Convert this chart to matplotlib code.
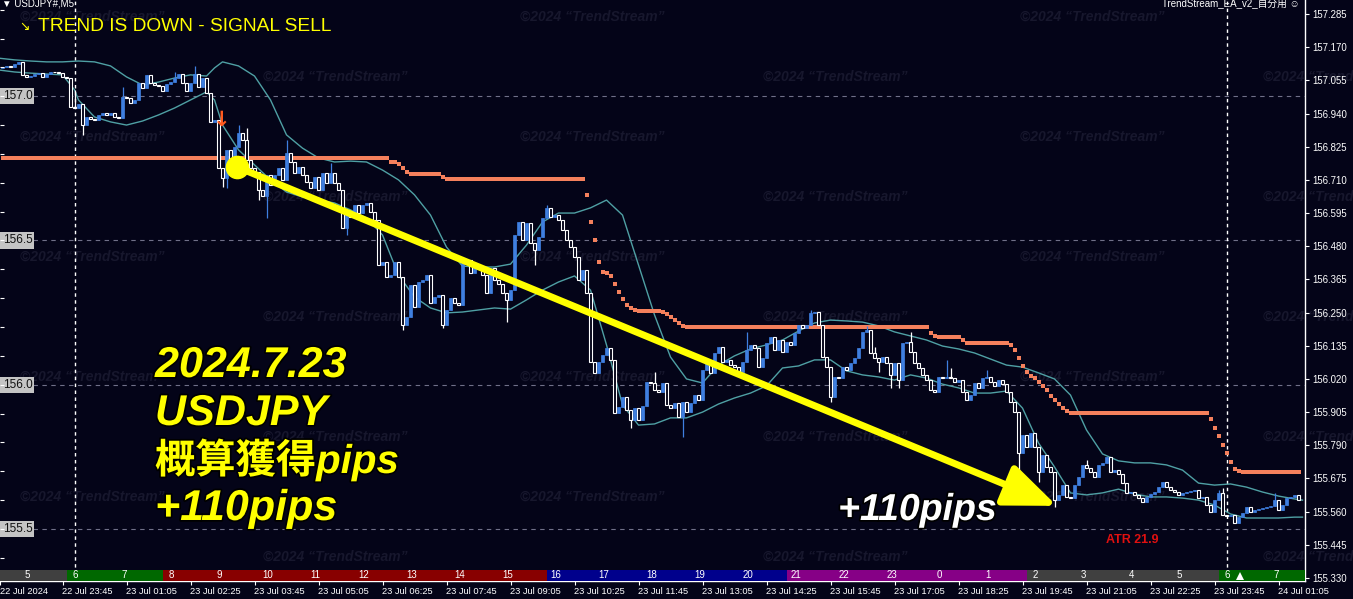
import numpy as np
import matplotlib
matplotlib.use("Agg")
import matplotlib.pyplot as plt
import matplotlib.patheffects as pe
from matplotlib import font_manager
from matplotlib.patches import Rectangle, FancyArrowPatch

# ---- data ----
FIRST_OPEN = 157.098

CLOSES = [
    157.101, 157.105, 157.101, 157.112, 157.119, 157.074, 157.067, 157.070, 157.077, 157.080,
    157.067, 157.077, 157.084, 157.084, 157.080, 157.067, 157.063, 156.963, 156.959, 156.973,
    156.900, 156.928, 156.921, 156.918, 156.935, 156.942, 156.935, 156.942, 156.928, 156.925,
    156.997, 156.994, 156.977, 156.987, 157.046, 157.028, 157.074, 157.046, 157.039, 157.035,
    157.018, 157.042, 157.049, 157.063, 157.077, 157.046, 157.018, 157.046, 157.077, 157.032,
    157.063, 157.011, 156.911, 156.918, 156.751, 156.717, 156.814, 156.779, 156.824, 156.872,
    156.848, 156.779, 156.751, 156.737, 156.675, 156.654, 156.727, 156.692, 156.727, 156.751,
    156.710, 156.803, 156.772, 156.734, 156.754, 156.727, 156.703, 156.682, 156.720, 156.675,
    156.734, 156.699, 156.734, 156.699, 156.675, 156.543, 156.595, 156.581, 156.623, 156.595,
    156.623, 156.630, 156.599, 156.571, 156.415, 156.425, 156.373, 156.380, 156.425, 156.373,
    156.207, 156.235, 156.345, 156.269, 156.356, 156.363, 156.380, 156.283, 156.304, 156.311,
    156.207, 156.259, 156.301, 156.283, 156.276, 156.422, 156.432, 156.387, 156.415, 156.408,
    156.380, 156.318, 156.404, 156.363, 156.349, 156.318, 156.294, 156.328, 156.519, 156.564,
    156.502, 156.561, 156.491, 156.467, 156.512, 156.578, 156.613, 156.581, 156.588, 156.571,
    156.536, 156.502, 156.477, 156.443, 156.363, 156.398, 156.318, 156.079, 156.041, 156.079,
    156.103, 156.127, 156.086, 155.902, 155.923, 155.957, 155.912, 155.878, 155.919, 155.878,
    155.926, 156.010, 156.006, 155.982, 155.975, 156.006, 155.930, 155.919, 155.937, 155.888,
    155.940, 155.905, 155.937, 155.964, 155.947, 156.051, 156.079, 156.041, 156.110, 156.131,
    156.079, 156.086, 156.068, 156.061, 156.044, 156.079, 156.120, 156.138, 156.127, 156.061,
    156.093, 156.145, 156.166, 156.120, 156.155, 156.113, 156.148, 156.138, 156.179, 156.207,
    156.197, 156.207, 156.249, 156.252, 156.207, 156.096, 156.061, 155.957, 156.027, 156.023,
    156.061, 156.051, 156.075, 156.093, 156.127, 156.183, 156.190, 156.110, 156.093, 156.079,
    156.096, 156.075, 156.034, 156.075, 156.016, 156.145, 156.148, 156.113, 156.075, 156.058,
    156.034, 156.016, 155.982, 155.975, 156.027, 156.023, 156.027, 156.023, 156.010, 156.016,
    155.975, 155.947, 155.964, 156.006, 155.989, 156.023, 156.027, 156.010, 155.996, 156.016,
    156.003, 155.975, 155.940, 155.905, 155.763, 155.826, 155.784, 155.833, 155.784, 155.698,
    155.756, 155.715, 155.698, 155.600, 155.618, 155.652, 155.611, 155.607, 155.652, 155.680,
    155.722, 155.711, 155.698, 155.680, 155.722, 155.729, 155.749, 155.698, 155.704, 155.690,
    155.659, 155.624, 155.628, 155.618, 155.607, 155.593, 155.611, 155.621, 155.628, 155.645,
    155.662, 155.645, 155.635, 155.628, 155.618, 155.624, 155.628, 155.631, 155.635, 155.607,
    155.611, 155.583, 155.559, 155.600, 155.624, 155.548, 155.545, 155.548, 155.520, 155.541,
    155.555, 155.576, 155.559, 155.566, 155.569, 155.573, 155.576, 155.580, 155.600, 155.566,
    155.583, 155.607, 155.611, 155.618, 155.600,
]

# candles whose wick reaches visibly past the body
HIGH_WICKS = {
    19: 157.022, 31: 157.032, 44: 157.084, 49: 157.105, 60: 156.900, 62: 156.890,
    72: 156.848, 83: 156.768, 137: 156.623, 164: 156.044, 187: 156.183, 203: 156.259,
    217: 156.204, 219: 156.131, 228: 156.183, 237: 156.086, 238: 156.058, 247: 156.051,
    272: 155.739, 305: 155.635, 306: 155.642, 319: 155.624,
}
LOW_WICKS = {
    21: 156.866, 56: 156.685, 57: 156.682, 65: 156.640, 67: 156.578, 87: 156.519,
    101: 156.190, 111: 156.197, 127: 156.217, 134: 156.415, 158: 155.850, 171: 155.819,
    208: 155.940, 220: 156.044, 223: 155.989, 225: 155.989, 255: 155.694, 260: 155.663,
    264: 155.576,
}

TRAIL_STOP = (
    [156.786] * 97
    + [156.772, 156.772, 156.765, 156.752, 156.738]
    + [156.731] * 8
    + [156.721]
    + [156.714] * 35
    + [156.658, 156.564, 156.502, 156.425, 156.391, 156.387, 156.377, 156.349, 156.321,
       156.297, 156.276, 156.266, 156.259]
    + [156.256] * 6
    + [156.252, 156.245, 156.235, 156.224, 156.214, 156.204]
    + [156.200] * 61
    + [156.179, 156.169]
    + [156.165] * 6
    + [156.155]
    + [156.145] * 11
    + [156.138, 156.120, 156.093, 156.065, 156.044, 156.030, 156.023, 156.009, 155.996,
       155.982, 155.961, 155.947, 155.933, 155.919, 155.909]
    + [155.902] * 35
    + [155.881, 155.850, 155.822, 155.791, 155.763, 155.732, 155.708, 155.701]
    + [155.698] * 15
)

UPPER_BAND_IDX = [0, 4, 8, 12, 16, 20, 24, 28, 32, 36, 40, 44, 48, 52, 54, 56] + list(range(60, 325, 4)) + [326]
UPPER_BAND = [
    157.132, 157.126, 157.122, 157.119, 157.119, 157.122, 157.119, 157.105, 157.067, 157.039,
    157.049, 157.063, 157.074, 157.070, 157.098, 157.119, 157.105, 157.070, 156.987, 156.866,
    156.820, 156.786, 156.772, 156.775, 156.772, 156.744, 156.710, 156.658, 156.588, 156.477,
    156.411, 156.408, 156.408, 156.418, 156.484, 156.564, 156.595, 156.595, 156.613, 156.640,
    156.588, 156.415, 156.242, 156.096, 156.020, 156.006, 156.068, 156.100, 156.124, 156.138,
    156.155, 156.186, 156.214, 156.224, 156.221, 156.217, 156.204, 156.183, 156.169, 156.155,
    156.134, 156.124, 156.110, 156.089, 156.068, 156.061, 156.041, 156.020, 155.964, 155.843,
    155.760, 155.736, 155.729, 155.729, 155.722, 155.704, 155.659, 155.652, 155.656, 155.645,
    155.628, 155.614, 155.604, 155.600,
]
LOWER_BAND_IDX = [0, 4, 8, 12, 16, 19, 20, 24, 28, 32, 36, 40, 44, 48, 52, 54, 56] + list(range(60, 325, 4)) + [326]
LOWER_BAND = [
    157.091, 157.084, 157.080, 157.077, 157.074, 157.022, 156.987, 156.928, 156.911, 156.900,
    156.914, 156.935, 156.959, 156.987, 157.015, 156.987, 156.900, 156.814, 156.762, 156.710,
    156.668, 156.651, 156.640, 156.630, 156.606, 156.578, 156.519, 156.380, 156.304, 156.266,
    156.249, 156.252, 156.259, 156.266, 156.262, 156.294, 156.328, 156.356, 156.377, 156.328,
    156.138, 155.930, 155.860, 155.864, 155.885, 155.885, 155.905, 155.933, 155.954, 155.971,
    155.996, 156.058, 156.065, 156.086, 156.086, 156.048, 156.034, 156.027, 156.016, 156.034,
    156.023, 156.002, 155.989, 155.971, 155.971, 155.978, 155.919, 155.798, 155.715, 155.625,
    155.618, 155.625, 155.638, 155.621, 155.611, 155.611, 155.607, 155.600, 155.583, 155.552,
    155.538, 155.538, 155.538, 155.541, 155.541,
]

PRICE_TICKS = [157.285, 157.170, 157.055, 156.940, 156.825, 156.710, 156.595, 156.480, 156.365,
               156.250, 156.135, 156.020, 155.905, 155.790, 155.675, 155.560, 155.445, 155.330]
GRID_LEVELS = [157.0, 156.5, 156.0, 155.5]
LEFT_SCALE = [155.4, 155.5, 155.6, 155.7, 155.8, 155.9, 156.0, 156.1, 156.2, 156.3, 156.4,
              156.5, 156.6, 156.7, 156.8, 156.9, 157.0, 157.1, 157.2, 157.3]
TIME_LABELS = ["22 Jul 2024", "22 Jul 23:45", "23 Jul 01:05", "23 Jul 02:25", "23 Jul 03:45",
               "23 Jul 05:05", "23 Jul 06:25", "23 Jul 07:45", "23 Jul 09:05", "23 Jul 10:25",
               "23 Jul 11:45", "23 Jul 13:05", "23 Jul 14:25", "23 Jul 15:45", "23 Jul 17:05",
               "23 Jul 18:25", "23 Jul 19:45", "23 Jul 21:05", "23 Jul 22:25", "23 Jul 23:45",
               "24 Jul 01:05"]
HOURS = [4, 5, 6, 7, 8, 9, 10, 11, 12, 13, 14, 15, 16, 17, 18, 19, 20, 21, 22, 23, 0, 1,
         2, 3, 4, 5, 6, 7]
HOUR_SESSION = ["off", "off", "asia", "asia"] + ["europe"] * 8 + ["america"] * 5 \
    + ["night"] * 5 + ["off"] * 4 + ["asia", "asia"]
DAY_BREAKS = [19, 307]          # first candle of a new server day
ENTRY = (59.6, 156.755)         # sell entry (yellow dot)
EXIT = (264.6, 155.580)         # arrow tip
SIGNAL = (55.9, 156.918)        # orange sell arrow
ATR_TEXT = "ATR 21.9"

# ---- styling ----
BG = "#040418"
BULL = "#3f7fe0"
BEAR = "#ffffff"
BAND = "#4fa0a4"
TRAIL = "#f4805c"
YELLOW = "#ffff00"
SESSION_COLORS = {"off": "#404040", "asia": "#006800", "europe": "#880000",
                  "america": "#00008c", "night": "#860086"}
W, H = 1353, 599
AX_W, AX_H = 1305, 581


def font_or(preferred, fallback):
    try:
        font_manager.findfont(font_manager.FontProperties(family=preferred),
                              fallback_to_default=False)
        return preferred
    except ValueError:
        return fallback


SANS = font_or("Liberation Sans", "DejaVu Sans")
CJK = ["Noto Sans CJK JP", "DejaVu Sans"]


def ax_px(px, py):
    return px / AX_W, 1 - py / AX_H


def fig_px(px, py):
    return px / W, 1 - py / H


fig = plt.figure(figsize=(W / 100, H / 100), dpi=100, facecolor=BG)
ax = fig.add_axes([0, (H - AX_H) / H, AX_W / W, AX_H / H], facecolor="none")
x0, x1 = 0.375, 326.625
y_top, y_bot = 157.3335, 155.3196
ax.set_xlim(x0, x1)
ax.set_ylim(y_bot, y_top)

# faint watermark grid, drawn behind the chart
for row in range(10):
    py = 17 + 60 * row
    centers = [92, 592, 1092] if row % 2 == 0 else [335, 835, 1335]
    for cx in centers:
        fig.text(cx / W, 1 - py / H, "©2024 “TrendStream”", color="#17172d",
                 fontsize=10, fontweight="bold", fontstyle="italic", family=SANS,
                 ha="center", va="center", zorder=-1)

# grid levels + grey labels on the left
for level in GRID_LEVELS:
    ax.axhline(level, xmin=33 / AX_W, xmax=1, color="#707088", lw=0.8,
               ls=(0, (4, 4)), zorder=1)
    ax.text(0.002, level, f"{level:.1f}", transform=ax.get_yaxis_transform(),
            ha="left", va="center", fontsize=8.5, family=SANS, color="#101010",
            bbox=dict(facecolor="#c4c4c4", edgecolor="none", pad=1.5), zorder=8)
ax.hlines(LEFT_SCALE, x0, x0 + 1.0, color="white", lw=0.8, zorder=8)

for day in DAY_BREAKS:
    ax.axvline(day, color="white", lw=1, ls=(0, (2.5, 2.5)), zorder=1.5)

# Bollinger bands and trailing stop
ax.plot(UPPER_BAND_IDX, UPPER_BAND, color=BAND, lw=1, zorder=2)
ax.plot(LOWER_BAND_IDX, LOWER_BAND, color=BAND, lw=1, zorder=2)
idx = np.arange(1, len(CLOSES) + 1)
ax.plot(idx, TRAIL_STOP, color=TRAIL, ls="none", marker="s", ms=2.3, mew=0, zorder=2.5)

# candles
closes = np.array(CLOSES)
opens = np.concatenate([[FIRST_OPEN], closes[:-1]])
highs = np.maximum(opens, closes)
lows = np.minimum(opens, closes)
for i, v in HIGH_WICKS.items():
    highs[i - 1] = v
for i, v in LOW_WICKS.items():
    lows[i - 1] = v
up = closes > opens
dn = ~up
ax.vlines(idx[up], lows[up], highs[up], color=BULL, lw=0.9, zorder=3)
ax.vlines(idx[dn], lows[dn], highs[dn], color=BEAR, lw=0.9, zorder=3)
ax.bar(idx[up], np.maximum(closes - opens, 0.0015)[up], bottom=opens[up], width=0.7,
       color=BULL, edgecolor=BULL, lw=0.5, zorder=3.2)
ax.bar(idx[dn], np.maximum(opens - closes, 0.0015)[dn], bottom=closes[dn], width=0.7,
       facecolor=BG, edgecolor=BEAR, lw=0.8, zorder=3.2)

# trade arrow
arrow = FancyArrowPatch(ENTRY, EXIT, arrowstyle="-|>,head_length=32,head_width=13",
                        mutation_scale=1, lw=5, color=YELLOW, shrinkA=0, shrinkB=0,
                        zorder=5)
ax.add_patch(arrow)
ax.plot(*ENTRY, marker="o", ms=16, color=YELLOW, zorder=5.5)
ax.text(*SIGNAL, "↓", color="#ff5a1e", fontsize=15, fontweight="bold",
        family="DejaVu Sans", ha="center", va="center", zorder=5)

# annotation texts
outline = [pe.withStroke(linewidth=2.5, foreground="black")]
big = dict(fontweight="bold", fontstyle="italic", color=YELLOW,
           ha="left", va="baseline", zorder=6, path_effects=outline)
ax.text(*ax_px(155, 377), "2024.7.23", transform=ax.transAxes, family=SANS, fontsize=31, **big)
ax.text(*ax_px(155, 425), "USDJPY", transform=ax.transAxes, family=SANS, fontsize=31, **big)
ax.text(*ax_px(155, 473), "概算獲得pips", transform=ax.transAxes,
        family=[SANS] + CJK, fontsize=29, **big)
ax.text(*ax_px(155, 520), "+110pips", transform=ax.transAxes, family=SANS, fontsize=31, **big)
ax.text(*ax_px(838, 520), "+110pips", transform=ax.transAxes, family=SANS,
        fontsize=27, fontweight="bold", fontstyle="italic", color="white",
        ha="left", va="baseline", zorder=6, path_effects=outline)
ax.text(*ax_px(1132, 540), ATR_TEXT, transform=ax.transAxes, family=SANS,
        fontsize=9, fontweight="bold", color="#e01010", ha="center", va="center",
        zorder=6)

# hour strip along the bottom (first listed hour is the partly hidden one)
strip_h = 11 / AX_H
xt = ax.get_xaxis_transform()
for k, (hour, sess) in enumerate(zip(HOURS, HOUR_SESSION)):
    start = DAY_BREAKS[0] + 12 * (k - 2)
    ax.add_patch(Rectangle((start - 2, 0), 12, strip_h, transform=xt,
                           facecolor=SESSION_COLORS[sess], edgecolor="none",
                           zorder=7, clip_on=True))
    if x0 < start < x1:
        ax.text(start + 0.3, strip_h / 2, str(hour), transform=xt, color="white",
                fontsize=7, family=SANS, ha="center", va="center", zorder=7.5)
ax.plot(310.4, strip_h * 0.45, marker="^", ms=6, color="white", mew=0,
        transform=xt, zorder=7.6, clip_on=False)

# axes / ticks
for side in ("top", "left"):
    ax.spines[side].set_visible(False)
for side in ("right", "bottom"):
    ax.spines[side].set_color("white")
    ax.spines[side].set_linewidth(1)
ax.yaxis.tick_right()
ax.set_yticks(PRICE_TICKS)
ax.set_yticklabels([f"{p:.3f}" for p in PRICE_TICKS], family=SANS)
ax.tick_params(axis="y", colors="white", length=3, width=0.8, pad=2, labelsize=6.9)
tick_pos = [max(16 * k, x0 + 0.02) for k in range(len(TIME_LABELS))]
ax.set_xticks(tick_pos)
ax.set_xticklabels(TIME_LABELS, ha="left", family=SANS)
ax.tick_params(axis="x", colors="white", length=3, width=0.8, pad=1.5, labelsize=6.7)

# header texts
fig.text(*fig_px(2, 4), "▼ USDJPY#,M5", color="white", fontsize=7, family=SANS,
         ha="left", va="center")
fig.text(*fig_px(19, 26), "↘", color=YELLOW, fontsize=9, family="DejaVu Sans",
         ha="left", va="center")
fig.text(*fig_px(38, 31), "TREND IS DOWN - SIGNAL SELL", color=YELLOW, fontsize=13.8,
         family=SANS, ha="left", va="baseline")
fig.text(*fig_px(1300, 4), "TrendStream_EA_v2_自分用 ☺", color="white", fontsize=7,
         family=[SANS] + CJK, ha="right", va="center")

fig.savefig("out.png", dpi=100, facecolor=BG)
